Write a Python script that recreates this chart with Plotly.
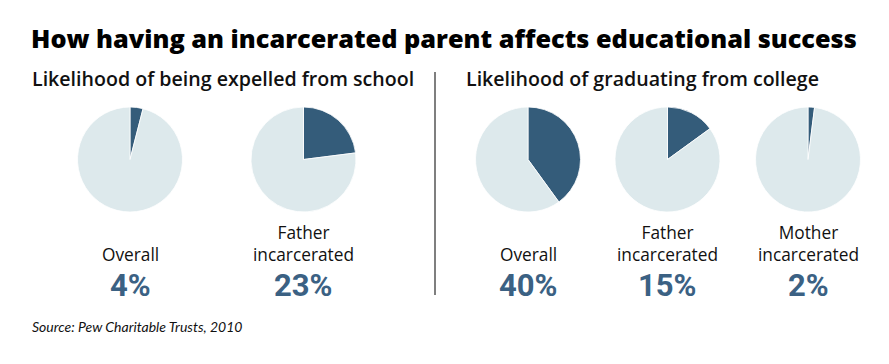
import plotly.graph_objects as go

title = "How having an incarcerated parent affects educational success"
group_titles = ["Likelihood of being expelled from school", "Likelihood of graduating from college"]
pie_labels = ["Overall", "Father<br>incarcerated", "Overall", "Father<br>incarcerated", "Mother<br>incarcerated"]
pie_values = [4, 23, 40, 15, 2]
source = "Source: Pew Charitable Trusts, 2010"

W, H = 889, 364
DARK = "#345c7a"
LIGHT = "#dde9ec"
TEXT_BLUE = "#3b6183"

centers_x = [130, 303.5, 528, 667.5, 808]
center_y = 159.5
r = 52.5

fig = go.Figure()
for i, (lab, v) in enumerate(zip(pie_labels, pie_values)):
    cx = centers_x[i]
    fig.add_trace(go.Pie(
        values=[v, 100 - v],
        labels=["yes", "no"],
        sort=False,
        direction="clockwise",
        rotation=0,
        marker=dict(colors=[DARK, LIGHT], line=dict(color="white", width=0.8)),
        textinfo="none",
        hoverinfo="none",
        showlegend=False,
        domain=dict(x=[(cx - r) / W, (cx + r) / W],
                    y=[(H - center_y - r) / H, (H - center_y + r) / H]),
    ))
    fig.add_annotation(x=cx / W, y=(H - 268) / H, xref="paper", yref="paper",
                       text=lab, showarrow=False, xanchor="center", yanchor="bottom",
                       font=dict(family="Open Sans", size=17.3, color="#111111"))
    fig.add_annotation(x=cx / W, y=(H - 285) / H, xref="paper", yref="paper",
                       text=f"<b>{v}%</b>", showarrow=False, xanchor="center", yanchor="middle",
                       font=dict(family="Roboto", size=31, color=TEXT_BLUE))

fig.add_annotation(x=29 / W, y=(H - 38) / H, xref="paper", yref="paper",
                   text=title, showarrow=False, xanchor="left", yanchor="middle",
                   font=dict(family="Open Sans", size=25.3, weight=800, color="#000000"))
fig.add_annotation(x=30 / W, y=(H - 78) / H, xref="paper", yref="paper",
                   text=group_titles[0], showarrow=False, xanchor="left", yanchor="middle",
                   font=dict(family="Open Sans", size=19.6, weight=600, color="#111111"))
fig.add_annotation(x=464 / W, y=(H - 78) / H, xref="paper", yref="paper",
                   text=group_titles[1], showarrow=False, xanchor="left", yanchor="middle",
                   font=dict(family="Open Sans", size=19.6, weight=600, color="#111111"))
fig.add_annotation(x=30 / W, y=(H - 326) / H, xref="paper", yref="paper",
                   text=f"<i>{source}</i>", showarrow=False, xanchor="left", yanchor="middle",
                   font=dict(family="Lato", size=14, color="#111111"))

fig.add_shape(type="line", xref="paper", yref="paper",
              x0=435 / W, x1=435 / W, y0=(H - 295) / H, y1=(H - 72) / H,
              line=dict(color="#555555", width=1.5))

fig.update_layout(width=W, height=H, margin=dict(l=0, r=0, t=0, b=0),
                  paper_bgcolor="white", plot_bgcolor="white")
fig.write_html("out.html", config={"displayModeBar": False},
               post_script="document.body.style.margin='0';")
